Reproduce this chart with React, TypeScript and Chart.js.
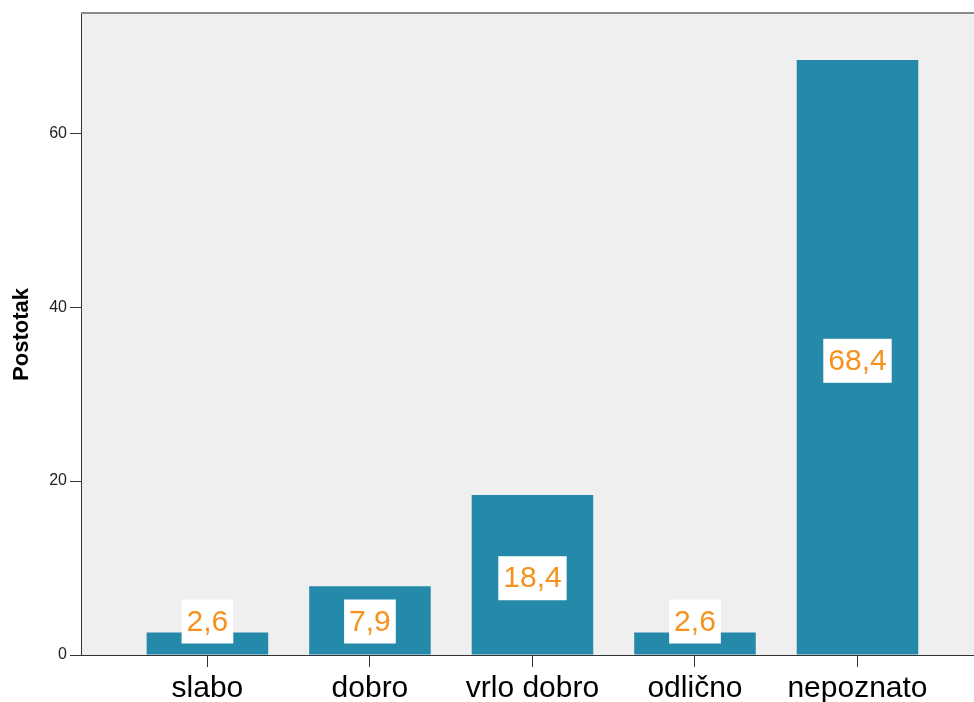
import React, { useEffect, useRef } from "react";
import { Chart, registerables } from "chart.js";

Chart.register(...registerables);

const categories = ["slabo", "dobro", "vrlo dobro", "odlično", "nepoznato"];
const percentages = [2.6, 7.9, 18.4, 2.6, 68.4];
const yTicks = [0, 20, 40, 60];
const yTitle = "Postotak";

const FONT = "'Liberation Sans', Arial, sans-serif";

const backgroundPlugin = {
  id: "plotBackground",
  beforeDraw(chart: any) {
    const { ctx, chartArea } = chart;
    ctx.save();
    ctx.fillStyle = "#efefef";
    ctx.fillRect(chartArea.left, chartArea.top, chartArea.right - chartArea.left, chartArea.bottom - chartArea.top);
    ctx.restore();
  },
  afterDraw(chart: any) {
    const { ctx, chartArea } = chart;
    ctx.save();
    ctx.strokeStyle = "#8a8a8a";
    ctx.lineWidth = 2;
    ctx.beginPath();
    ctx.moveTo(chartArea.left, chartArea.top - 1);
    ctx.lineTo(chartArea.right, chartArea.top - 1);
    ctx.stroke();
    ctx.restore();
  },
};

const labelPlugin = {
  id: "valueBoxes",
  afterDatasetsDraw(chart: any) {
    const { ctx } = chart;
    const meta = chart.getDatasetMeta(0);
    ctx.save();
    ctx.font = `30px ${FONT}`;
    ctx.textAlign = "center";
    ctx.textBaseline = "middle";
    meta.data.forEach((el: any, i: number) => {
      const text = percentages[i].toFixed(1).replace(".", ",");
      const w = ctx.measureText(text).width + 10;
      const h = 44;
      let cy = (el.y + el.base) / 2 + 3.5;
      const maxCy = el.base - 11 - h / 2;
      if (cy > maxCy) cy = maxCy;
      ctx.fillStyle = "#ffffff";
      ctx.fillRect(el.x - w / 2, cy - h / 2, w, h);
      ctx.fillStyle = "#f5921e";
      ctx.fillText(text, el.x, cy + 1);
    });
    ctx.restore();
  },
};

export default function App() {
  const ref = useRef<HTMLCanvasElement>(null);

  useEffect(() => {
    if (!ref.current) return;
    const chart = new Chart(ref.current, {
      type: "bar",
      data: {
        datasets: [
          {
            data: percentages.map((v, i) => ({ x: i, y: v })),
            backgroundColor: "#258aaa",
            borderWidth: 0,
            categoryPercentage: 0.748,
            barPercentage: 1,
          },
        ],
      },
      options: {
        responsive: false,
        animation: false,
        layout: { padding: { top: 14, right: 0, left: 0, bottom: 0 } },
        plugins: { legend: { display: false }, tooltip: { enabled: false } },
        scales: {
          x: {
            type: "linear",
            offset: false,
            min: -0.778,
            max: 4.717,
            afterBuildTicks: (scale: any) => {
              scale.ticks = categories.map((_, i) => ({ value: i }));
            },
            afterFit: (scale: any) => {
              scale.height = 47;
            },
            ticks: {
              autoSkip: false,
              maxRotation: 0,
              padding: 4,
              color: "#000000",
              font: { family: FONT, size: 30 },
              callback: (value: any) => categories[Math.round(Number(value))] ?? "",
            },
            grid: {
              offset: false,
              drawOnChartArea: false,
              drawTicks: true,
              tickLength: 12,
              color: "#333333",
            },
            border: { display: true, color: "#333333", width: 1 },
          },
          y: {
            type: "linear",
            min: 0,
            max: 73.7,
            afterBuildTicks: (scale: any) => {
              scale.ticks = yTicks.map((v) => ({ value: v }));
            },
            afterFit: (scale: any) => {
              scale.width = 81;
            },
            ticks: {
              padding: 3,
              color: "#222222",
              font: { family: FONT, size: 16 },
            },
            grid: {
              drawOnChartArea: false,
              drawTicks: true,
              tickLength: 11,
              color: "#333333",
            },
            border: { display: true, color: "#333333", width: 1 },
            title: {
              display: true,
              text: yTitle,
              color: "#000000",
              font: { family: FONT, size: 22, weight: "bold" },
              padding: { top: 9, bottom: 0 },
            },
          },
        },
      },
      plugins: [backgroundPlugin, labelPlugin],
    });
    return () => chart.destroy();
  }, []);

  return (
    <div style={{ position: "fixed", left: 0, top: 0, width: 974, height: 702, background: "#ffffff" }}>
      <canvas ref={ref} width={974} height={702} style={{ display: "block" }} />
    </div>
  );
}
